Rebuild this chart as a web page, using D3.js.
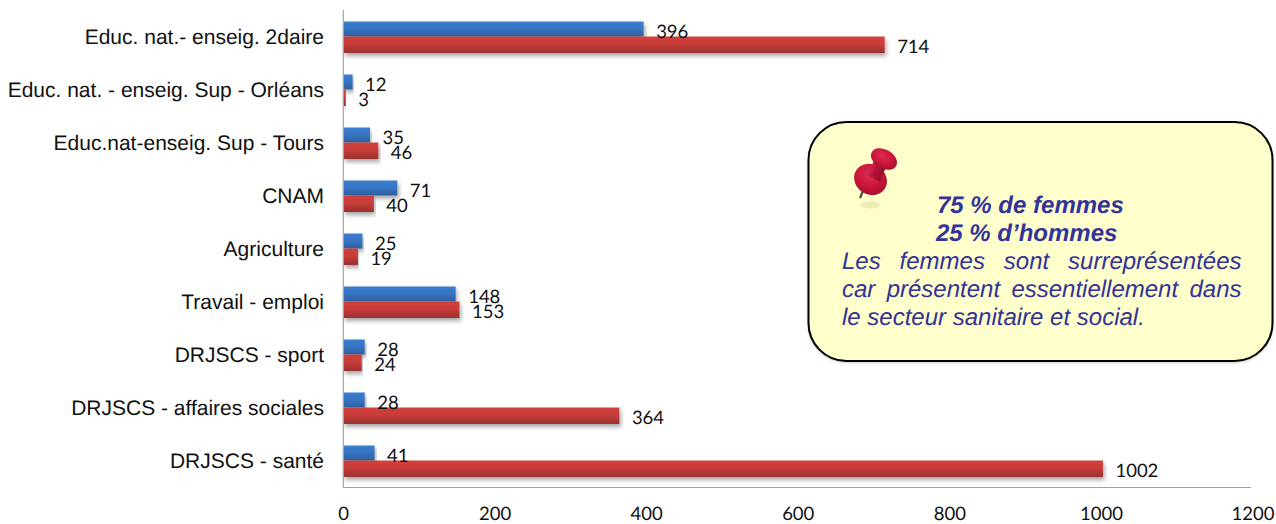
<!DOCTYPE html>
<html><head><meta charset="utf-8">
<script src="https://cdn.jsdelivr.net/npm/d3@7"></script>
<style>
html,body{margin:0;padding:0;background:#fff}
svg{display:block}
text{text-rendering:geometricPrecision}
</style></head><body>
<svg id="c" width="1276" height="524"></svg>
<script>
const categories=["Educ. nat.- enseig. 2daire","Educ. nat. - enseig. Sup - Orléans","Educ.nat-enseig. Sup - Tours","CNAM","Agriculture","Travail - emploi","DRJSCS - sport","DRJSCS - affaires sociales","DRJSCS - santé"];
const hommes=[396,12,35,71,25,148,28,28,41];
const femmes=[714,3,46,40,19,153,24,364,1002];
const xTicks=[0,200,400,600,800,1000,1200];
const noteBold=["75 % de femmes","25 % d’hommes"];
const noteLines=["Les femmes sont surreprésentées","car présentent essentiellement dans","le secteur sanitaire et social."];

const svg=d3.select("#c");
const x=d3.scaleLinear().domain([0,1200]).range([343.5,1253]);
const y=d3.scaleBand().domain(categories).range([10,487]);
const defs=svg.append("defs");
function grad(id,a,b,c){const g=defs.append("linearGradient").attr("id",id).attr("x1",0).attr("x2",0).attr("y1",0).attr("y2",1);
 g.append("stop").attr("offset","0").attr("stop-color",a);
 g.append("stop").attr("offset","0.45").attr("stop-color",b);
 g.append("stop").attr("offset","1").attr("stop-color",c);}
grad("gb","#3a7cd0","#3875c4","#2f5f9e");
grad("gr","#d0403c","#c93d39","#983030");
const sh=defs.append("filter").attr("id","sh").attr("x","-5%").attr("y","-30%").attr("width","112%").attr("height","190%");
sh.append("feDropShadow").attr("dx",1.5).attr("dy",3).attr("stdDeviation",2.2).attr("flood-color","#000").attr("flood-opacity",0.35);
const bs=defs.append("filter").attr("id","bs").attr("x","-5%").attr("y","-5%").attr("width","110%").attr("height","110%");
bs.append("feDropShadow").attr("dx",0).attr("dy",1).attr("stdDeviation",1).attr("flood-color","#000").attr("flood-opacity",0.2);

const mid=c=>y(c)+y.bandwidth()/2;
const bars=svg.append("g");
bars.selectAll(".h").data(categories).join("rect").attr("class","h")
 .attr("x",x(0)).attr("y",c=>mid(c)-15).attr("height",15)
 .attr("width",(c,i)=>x(hommes[i])-x(0)).attr("fill","url(#gb)").attr("filter","url(#sh)");
bars.selectAll(".f").data(categories).join("rect").attr("class","f")
 .attr("x",x(0)).attr("y",c=>mid(c)).attr("height",16.5)
 .attr("width",(c,i)=>x(femmes[i])-x(0)).attr("fill","url(#gr)").attr("filter","url(#sh)");

const ax=svg.append("g").attr("stroke","#a3a3a3").attr("stroke-width",1.2);
ax.append("line").attr("x1",343.3).attr("x2",343.3).attr("y1",10).attr("y2",487.5);
ax.append("line").attr("x1",343.3).attr("x2",1251).attr("y1",487.5).attr("y2",487.5);

const num="Lato, 'Open Sans', sans-serif";
svg.append("g").selectAll("text").data(categories).join("text")
 .attr("x",324).attr("y",c=>mid(c)+7).attr("text-anchor","end")
 .attr("font-family","'Liberation Sans',Arial").attr("font-size",21).attr("fill","#111").text(c=>c);
svg.append("g").selectAll("text").data(xTicks).join("text")
 .attr("x",d=>x(d)).attr("y",520).attr("text-anchor","middle")
 .attr("font-family",num).attr("font-size",18.5).attr("fill","#111").text(d=>d);
const labels=svg.append("g").attr("font-family",num).attr("font-size",18.5).attr("fill","#111");
labels.selectAll(".lh").data(categories).join("text").attr("class","lh")
 .attr("x",(c,i)=>x(hommes[i])+12.5).attr("y",c=>mid(c)+1).text((c,i)=>hommes[i]);
labels.selectAll(".lf").data(categories).join("text").attr("class","lf")
 .attr("x",(c,i)=>x(femmes[i])+12.5).attr("y",c=>mid(c)+16).text((c,i)=>femmes[i]);

svg.append("rect").attr("x",808.5).attr("y",122).attr("width",464).attr("height",239).attr("rx",38).attr("ry",38)
 .attr("fill","#ffffcc").attr("stroke","#000").attr("stroke-width",2).attr("filter","url(#bs)");

const pin=svg.append("g");
const gp=defs.append("radialGradient").attr("id","gp").attr("cx","0.38").attr("cy","0.4").attr("r","0.75");
gp.selectAll("stop").data([["0","#dc2c50"],["0.55","#c8143a"],["1","#94102e"]]).join("stop").attr("offset",d=>d[0]).attr("stop-color",d=>d[1]);
const gs=defs.append("linearGradient").attr("id","gs").attr("x1",0).attr("y1",0.2).attr("x2",1).attr("y2",0.7);
gs.selectAll("stop").data([["0","#d8506c"],["0.45","#bc1236"],["1","#7e0c26"]]).join("stop").attr("offset",d=>d[0]).attr("stop-color",d=>d[1]);
pin.append("ellipse").attr("cx",870).attr("cy",205).attr("rx",10).attr("ry",3.5).attr("fill","#eeecb4");
pin.append("line").attr("x1",863).attr("y1",191).attr("x2",860).attr("y2",198).attr("stroke","#4a4a4a").attr("stroke-width",2.2);
pin.append("ellipse").attr("cx",870.5).attr("cy",179.5).attr("rx",17).attr("ry",15).attr("transform","rotate(34 870.5 179.5)").attr("fill","url(#gp)");
pin.append("path").attr("d",d3.line()([[875,158],[887,166],[882,175],[880,182],[866,174],[871,167]])).attr("fill","url(#gs)");
pin.append("ellipse").attr("cx",884).attr("cy",159).attr("rx",14).attr("ry",9.5).attr("transform","rotate(30 884 159)").attr("fill","url(#gp)");

const note=svg.append("g").attr("font-family","'Liberation Sans',Arial").attr("fill","#333399").attr("font-style","italic");
note.selectAll(".b").data(noteBold).join("text").attr("class","b")
 .attr("x",(d,i)=>i?936:937).attr("y",(d,i)=>213+i*28).attr("font-size",24).attr("font-weight","bold").text(d=>d);
note.selectAll(".n").data(noteLines).join("text").attr("class","n")
 .attr("x",842).attr("y",(d,i)=>268.5+i*28).attr("font-size",24).text(d=>d)
 .each(function(d,i){
   if(i<2){ const w=this.getComputedTextLength(); const gaps=d.split(" ").length-1;
     d3.select(this).attr("word-spacing",(399.5-w)/gaps); }
 });
</script></body></html>
